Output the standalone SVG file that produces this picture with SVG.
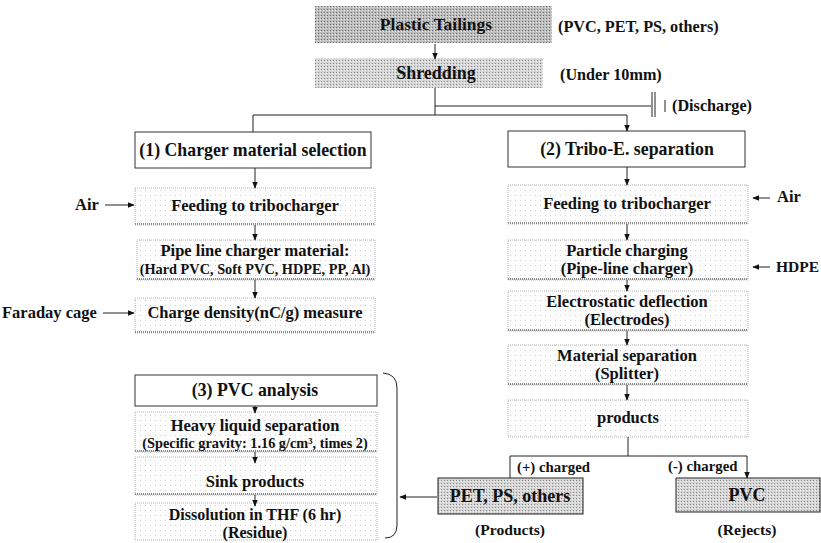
<svg xmlns="http://www.w3.org/2000/svg" width="821" height="543" viewBox="0 0 821 543" font-family="'Liberation Serif', 'DejaVu Serif', serif">
<defs>
<pattern id="stipDark" width="3" height="3" patternUnits="userSpaceOnUse"><rect width="3" height="3" fill="#bdbdbd"/><rect width="1" height="1" fill="#6e6e6e"/><rect x="2" y="1" width="1" height="1" fill="#e6e6e6"/></pattern>
<pattern id="stipMid" width="3" height="3" patternUnits="userSpaceOnUse"><rect width="3" height="3" fill="#d6d6d6"/><rect width="1" height="1" fill="#8a8a8a"/><rect x="2" y="1" width="1" height="1" fill="#f4f4f4"/></pattern>
<pattern id="stipLight" width="5" height="5" patternUnits="userSpaceOnUse"><rect width="5" height="5" fill="#fdfdfd"/><rect width="1" height="1" fill="#d4d4d4"/></pattern>
<marker id="ah" viewBox="0 0 10 10" refX="9" refY="5" markerWidth="7" markerHeight="7" orient="auto-start-reverse" markerUnits="userSpaceOnUse"><path d="M0,1 L10,5 L0,9 z" fill="#111"/></marker>
</defs>
<style>
text{font-family:"Liberation Serif","DejaVu Serif",serif;font-weight:bold;fill:#111;text-anchor:middle}
.t16{font-size:17.5px}
.t15{font-size:16.5px}
.t17{font-size:17.8px}
.t14{font-size:16.2px}
.t13{font-size:14.8px}
.t12{font-size:14.3px}
.lft{text-anchor:start}
.solid{fill:#fff;stroke:#333;stroke-width:1}
.light{fill:url(#stipLight);stroke:#b5b5b5;stroke-width:1;stroke-dasharray:1 1}
.lbot{stroke:#8a8a8a;stroke-width:2;stroke-dasharray:1 1}
.dark{fill:url(#stipDark);stroke:none}
.mid{fill:url(#stipMid);stroke:none}
.gbox{fill:url(#stipMid);stroke:#222;stroke-width:1}
.ln{stroke:#222;stroke-width:1;fill:none}
.arr{stroke:#222;stroke-width:1;fill:none;marker-end:url(#ah)}
</style>
<rect width="821" height="543" fill="#fff"/>

<g id="plastic-tailings">
<rect class="dark" x="315" y="6" width="237" height="37"/>
<text class="t16" x="436" y="30">Plastic Tailings</text>
</g>
<text class="t14 lft" x="558" y="32">(PVC, PET, PS, others)</text>

<g id="shredding">
<rect class="mid" x="315" y="58" width="228" height="30"/>
<text class="t16" x="436" y="79" style="font-size:18px">Shredding</text>
</g>
<text class="t14 lft" x="560" y="80">(Under 10mm)</text>

<g id="discharge">
<line class="ln" x1="652" y1="92" x2="652" y2="117"/>
<line class="ln" x1="655" y1="92" x2="655" y2="117"/>
<line class="ln" x1="665" y1="100" x2="665" y2="112"/>
<text class="t14 lft" x="672" y="111">(Discharge)</text>
</g>

<g id="box1">
<rect class="solid" x="135" y="132" width="236" height="36"/>
<text class="t17" x="253" y="156">(1) Charger material selection</text>
</g>
<g id="feedL">
<rect class="light" x="135" y="188" width="240" height="37"/>
<line class="lbot" x1="135" y1="224" x2="375" y2="224"/>
<text class="t15" x="255" y="211">Feeding to tribocharger</text>
</g>
<text class="t15 lft" x="75" y="210">Air</text>
<g id="pipeL">
<rect class="light" x="137" y="240" width="238" height="40"/>
<line class="lbot" x1="137" y1="279" x2="375" y2="279"/>
<text class="t15" x="255" y="256">Pipe line charger material:</text>
<text class="t12" x="255" y="274">(Hard PVC, Soft PVC, HDPE, PP,  Al)</text>
</g>
<g id="chargeL">
<rect class="light" x="135" y="298" width="240" height="35"/>
<line class="lbot" x1="135" y1="332" x2="375" y2="332"/>
<text class="t15" x="255" y="318">Charge density(nC/g) measure</text>
</g>
<text class="t15 lft" x="2" y="318">Faraday cage</text>

<g id="box3">
<rect class="solid" x="135" y="375" width="242" height="31"/>
<text class="t17" x="255" y="396">(3) PVC analysis</text>
</g>
<g id="heavy">
<rect class="light" x="135" y="412" width="242" height="40"/>
<line class="lbot" x1="135" y1="451" x2="377" y2="451"/>
<text class="t15" x="255" y="431">Heavy liquid separation</text>
<text class="t12" x="255" y="448">(Specific gravity: 1.16 g/cm³, times 2)</text>
</g>
<g id="sink">
<rect class="light" x="135" y="457" width="242" height="38"/>
<line class="lbot" x1="135" y1="494" x2="377" y2="494"/>
<text class="t15" x="255" y="487">Sink products</text>
</g>
<g id="dissolution">
<rect class="light" x="135" y="503" width="242" height="37"/>
<text class="t15" x="255" y="520" style="font-size:16px">Dissolution in THF (6 hr)</text>
<text class="t15" x="255" y="538" style="font-size:16px">(Residue)</text>
</g>
<path id="bracket" class="ln" d="M383,373 Q397,374 397,388 L397,525 Q397,538 385,538"/>

<g id="box2">
<rect class="solid" x="508" y="131" width="237" height="36"/>
<text class="t17" x="627" y="155">(2) Tribo-E. separation</text>
</g>
<g id="feedR">
<rect class="light" x="508" y="185" width="240" height="39"/>
<line class="lbot" x1="508" y1="223" x2="748" y2="223"/>
<text class="t15" x="627" y="209">Feeding to tribocharger</text>
</g>
<text class="t15 lft" x="777" y="202">Air</text>
<g id="particle">
<rect class="light" x="508" y="240" width="240" height="40"/>
<line class="lbot" x1="508" y1="279" x2="748" y2="279"/>
<text class="t15" x="627" y="256">Particle charging</text>
<text class="t15" x="627" y="274">(Pipe-line charger)</text>
</g>
<text class="t15 lft" x="776" y="272" style="font-size:15.5px">HDPE</text>
<g id="electro">
<rect class="light" x="508" y="291" width="240" height="40"/>
<line class="lbot" x1="508" y1="330" x2="748" y2="330"/>
<text class="t15" x="627" y="307">Electrostatic deflection</text>
<text class="t15" x="627" y="325">(Electrodes)</text>
</g>
<g id="material">
<rect class="light" x="508" y="345" width="240" height="40"/>
<line class="lbot" x1="508" y1="384" x2="748" y2="384"/>
<text class="t15" x="627" y="361">Material separation</text>
<text class="t15" x="627" y="379">(Splitter)</text>
</g>
<g id="products">
<rect class="light" x="508" y="400" width="240" height="37"/>
<text class="t15" x="628" y="423">products</text>
</g>
<text class="t13 lft" x="517" y="472">(+) charged</text>
<text class="t13 lft" x="668" y="471">(-) charged</text>
<g id="pet">
<rect class="gbox" x="438" y="478" width="145" height="36"/>
<text class="t17" x="510" y="502" style="font-size:18px">PET, PS, others</text>
</g>
<text class="t15" x="510" y="535" style="font-size:15.6px">(Products)</text>
<g id="pvc">
<rect class="gbox" x="676" y="478" width="144" height="34"/>
<text class="t17" x="747" y="501" style="font-size:18px">PVC</text>
</g>
<text class="t15" x="747" y="535" style="font-size:15.6px">(Rejects)</text>

<g id="connectors">
<line class="arr" x1="435" y1="44" x2="435" y2="59"/>
<line class="ln" x1="435" y1="88" x2="435" y2="115"/>
<line class="ln" x1="435" y1="106" x2="651" y2="106"/>
<polyline class="arr" points="253,132 253,115 627,115 627,131"/>
<line class="arr" x1="255" y1="168" x2="255" y2="188"/>
<line class="arr" x1="105" y1="205" x2="134" y2="205"/>
<line class="arr" x1="255" y1="225" x2="255" y2="240"/>
<line class="arr" x1="255" y1="280" x2="255" y2="298"/>
<line class="arr" x1="103" y1="313" x2="134" y2="313"/>
<line class="arr" x1="255" y1="406" x2="255" y2="413"/>
<line class="arr" x1="255" y1="452" x2="255" y2="463"/>
<line class="arr" x1="255" y1="495" x2="255" y2="506"/>
<line class="arr" x1="627" y1="167" x2="627" y2="185"/>
<line class="arr" x1="770" y1="198" x2="753" y2="198"/>
<line class="arr" x1="627" y1="224" x2="627" y2="240"/>
<line class="arr" x1="770" y1="267" x2="753" y2="267"/>
<line class="arr" x1="627" y1="280" x2="627" y2="291"/>
<line class="arr" x1="627" y1="331" x2="627" y2="345"/>
<line class="arr" x1="627" y1="385" x2="627" y2="400"/>
<line class="ln" x1="628" y1="437" x2="628" y2="456"/>
<polyline class="arr" points="510,478 510,456 747,456 747,478"/>
<line class="arr" x1="437" y1="497" x2="400" y2="497"/>
</g>
</svg>
